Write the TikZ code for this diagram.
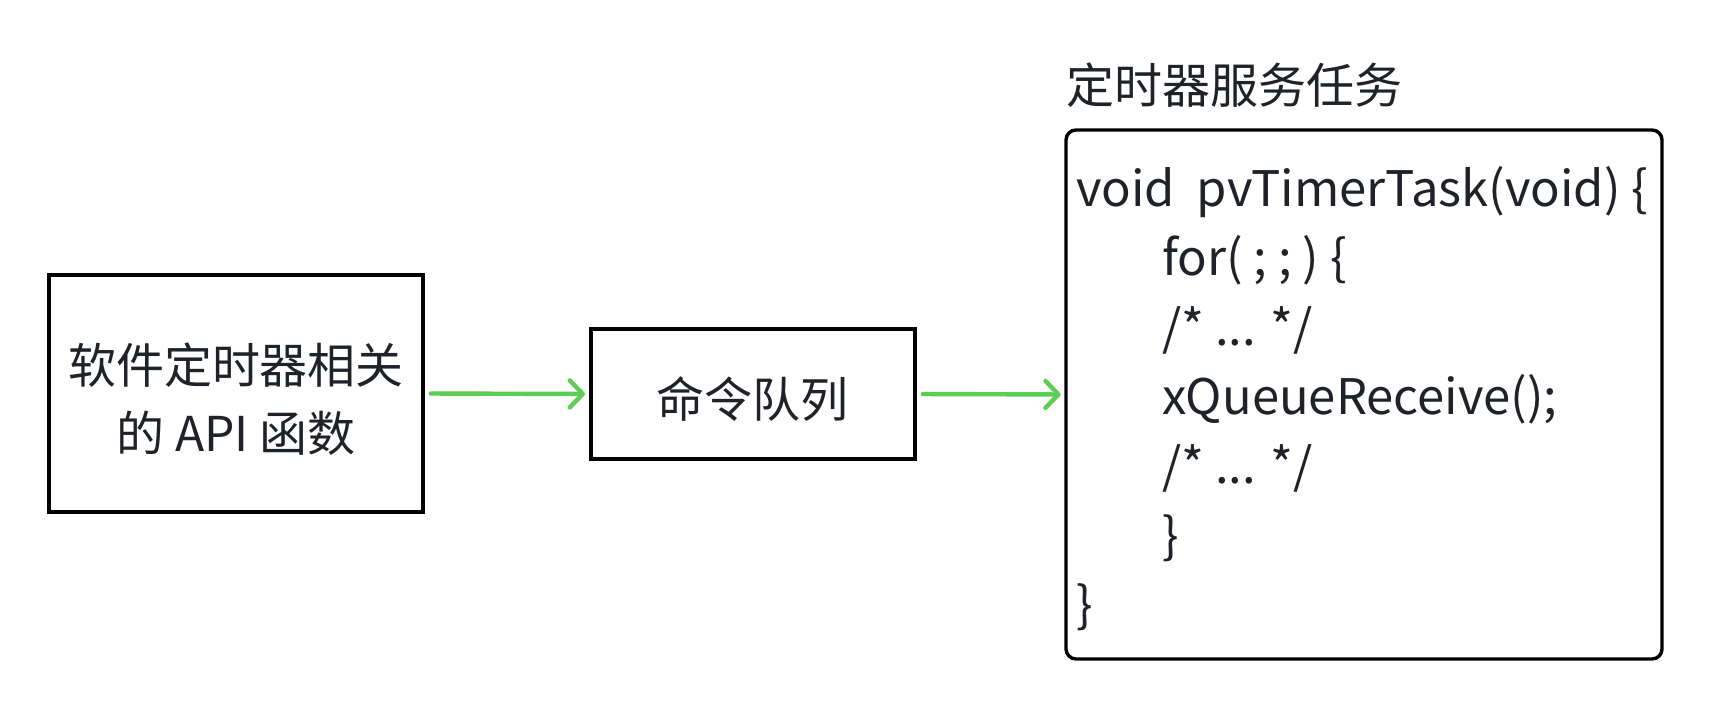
\documentclass[tikz,border=0pt]{standalone}
\usepackage{fontspec}
\setmainfont{Noto Sans CJK SC}
\usetikzlibrary{arrows.meta}
\definecolor{txt}{HTML}{1F2329}
\definecolor{arrowgreen}{HTML}{5CCD55}
\begin{document}
\begin{tikzpicture}[x=0.5pt,y=-0.5pt,
  box/.style={draw=black,line width=1.7pt,inner sep=0pt,outer sep=0pt},
  lbl/.style={inner sep=0pt,outer sep=0pt,text=txt,font=\fontsize{24}{34}\selectfont},
  code/.style={inner sep=0pt,outer sep=0pt,text=txt,font=\fontsize{24.5}{34}\selectfont,anchor=base west},
  arr/.style={draw=arrowgreen,line width=2.2pt,line cap=round,
    -{Straight Barb[length=6.5pt,width=13.5pt,round]}}]
\useasboundingbox (0,0) rectangle (1718,710);
% boxes
\node[box,minimum width=187pt,minimum height=118.5pt] (api) at (236,393.5) {};
\node[box,minimum width=162pt,minimum height=65pt] (queue) at (753,394) {};
\node[box,rounded corners=5pt,minimum width=298pt,minimum height=264.5pt] (task) at (1364,394.5) {};
% box texts
\node[lbl,anchor=base] (api1) at (236,384) {软件定时器相关};
\node[lbl,anchor=base] (api2) at (236,452) {的 API 函数};
\node[lbl,anchor=base] (queuet) at (752,418) {命令队列};
\node[lbl,anchor=base west] (title) at (1066,104) {定时器服务任务};
% code
\node[code] (c1) at (1076,207) {void\ \ pvTimerTask(void) \{};
\node[code] (c2) at (1162,276) {for( ; ; ) \{};
\node[code] (c3) at (1162,346) {/* ... */};
\node[code] (c4) at (1162,415) {xQueueReceive();};
\node[code] (c5) at (1162,484) {/* ... */};
\node[code] (c6) at (1162,553) {\}};
\node[code] (c7) at (1076,622) {\}};
% connectors
\draw[arr,shorten <=3.9pt,shorten >=3pt] (api.east) -- (queue.west);
\draw[arr,shorten <=3.9pt,shorten >=2.7pt] (queue.east) -- (task.west);
\end{tikzpicture}
\end{document}
